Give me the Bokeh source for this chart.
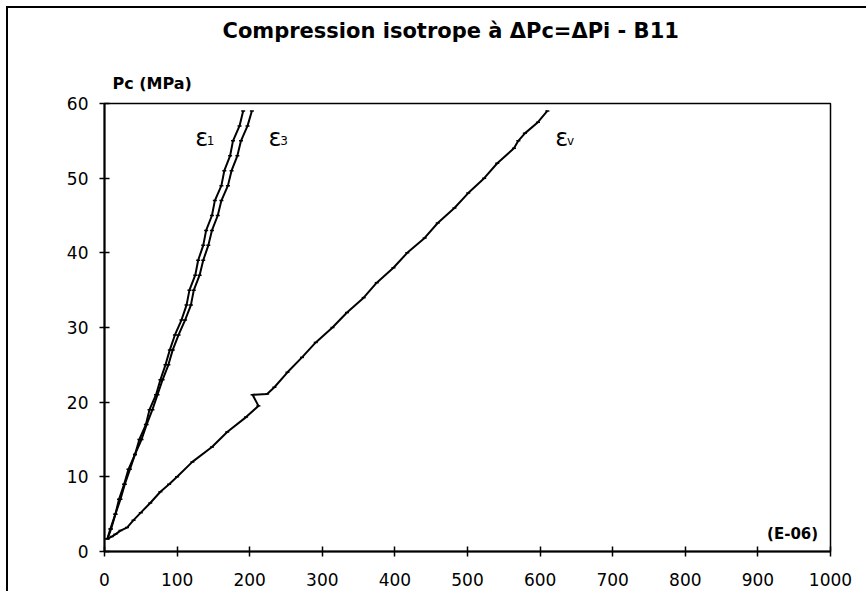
from bokeh.plotting import figure
from bokeh.models import Range1d, Label, FixedTicker, Title
from bokeh.embed import file_html
from bokeh.resources import INLINE

# ---- data (strain in E-06, Pc in MPa) ----
pc_e1 = [1.7, 3, 5, 7, 9, 11, 13, 15, 17, 19, 21, 23, 25, 27, 29, 31, 33, 35, 37, 39,
         41, 43, 45, 47, 49, 51, 53, 55, 57, 59]
eps_1 = [4, 8, 15, 20, 27, 33, 42, 48, 57, 62, 71, 77, 84, 90, 97, 106, 113, 117, 125, 129,
         136, 140, 148, 152, 161, 165, 173, 177, 186, 191]

pc_e3 = [1.7, 3, 5, 7, 9, 11, 13, 15, 17, 19, 21, 23, 25, 27, 29, 31, 33, 35, 37, 39,
         41, 43, 45, 47, 49, 51, 53, 55, 57, 59]
eps_3 = [4, 9, 15, 22, 28, 35, 42, 51, 58, 66, 73, 80, 88, 94, 102, 111, 119, 123, 131, 136,
         143, 148, 156, 161, 170, 175, 183, 188, 197, 203]

pc_ev = [1.7, 2.0, 2.3, 2.8, 3.2, 4.2, 5.2, 6.5, 8, 9, 10, 12, 14, 16, 18, 19.5, 21, 21.1, 22,
         24, 26, 28, 30, 32, 34, 36, 38, 40, 42, 44, 46, 48, 50, 52, 54, 55, 56, 57.5, 59]
eps_v = [4, 10, 15, 22, 31, 40, 50, 63, 77, 89, 100, 121, 148, 169, 195, 212, 204, 224, 234,
         252, 272, 291, 314, 334, 357, 375, 398, 417, 441, 459, 482, 501, 523, 541, 564, 570, 579, 597, 610]

x_ticks = [0, 100, 200, 300, 400, 500, 600, 700, 800, 900, 1000]
y_ticks = [0, 10, 20, 30, 40, 50, 60]

title_text = "Compression isotrope à \u0394Pc=\u0394Pi - B11"
y_label = "Pc (MPa)"
x_label = "(E-06)"

FONT = "DejaVu Sans"

p = figure(width=860, height=585, output_backend="svg", toolbar_location=None,
           x_range=Range1d(0, 1000), y_range=Range1d(0, 60),
           min_border_left=96, min_border_right=38, min_border_top=95, min_border_bottom=42)
p.styles = {"margin-left": "6px", "margin-top": "6px",
            "border-left": "2px solid black", "border-top": "2px solid black"}

p.grid.visible = False
p.outline_line_color = "black"
p.outline_line_width = 1.5
p.background_fill_color = "white"
p.border_fill_color = "white"

for ax, ticks in ((p.xaxis[0], x_ticks), (p.yaxis[0], y_ticks)):
    ax.ticker = FixedTicker(ticks=ticks)
    ax.axis_line_color = "black"
    ax.axis_line_width = 2
    ax.major_tick_line_color = "black"
    ax.major_tick_line_width = 1.5
    ax.major_tick_in = 5
    ax.major_tick_out = 5
    ax.minor_tick_line_color = None
    ax.major_label_text_font = FONT
    ax.major_label_text_font_size = "17px"
    ax.major_label_text_color = "black"
p.xaxis[0].major_label_standoff = 16
p.yaxis[0].major_label_standoff = 11

for xs, ys in ((eps_1, pc_e1), (eps_3, pc_e3), (eps_v, pc_ev)):
    p.line(xs, ys, line_color="black", line_width=2)
    p.scatter(xs, ys, marker="dash", size=4, line_color="black", line_width=1.5)

# above panels, nearest the frame first: "Pc (MPa)", a spacer, then the main title
p.add_layout(Title(text=y_label, align="left", offset=8, standoff=21, vertical_align="bottom",
                   text_font=FONT, text_font_style="bold", text_font_size="16px",
                   text_color="black"), "above")
p.add_layout(Title(text=" ", standoff=0, text_font_size="4px"), "above")
p.title.text = title_text
p.title.align = "left"
p.title.offset = 118
p.title.standoff = 20
p.title.vertical_align = "top"
p.title.text_font = FONT
p.title.text_font_style = "bold"
p.title.text_font_size = "21px"
p.title.text_color = "black"

p.add_layout(Label(x=983, y=2.4, text=x_label, text_align="right", text_baseline="middle",
                   text_font=FONT, text_font_style="bold", text_font_size="15px", text_color="black"))

# curve labels
for xl, sub in ((125, "1"), (226, "3"), (621, "v")):
    p.add_layout(Label(x=xl, y=55.4, text="\u03b5", text_align="left", text_baseline="middle",
                       text_font=FONT, text_font_size="24px", text_color="black"))
    p.add_layout(Label(x=xl + 16, y=55.0, text=sub, text_align="left", text_baseline="middle",
                       text_font=FONT, text_font_size="12px", text_color="black"))

open("out.html", "w").write(file_html(p, INLINE))
